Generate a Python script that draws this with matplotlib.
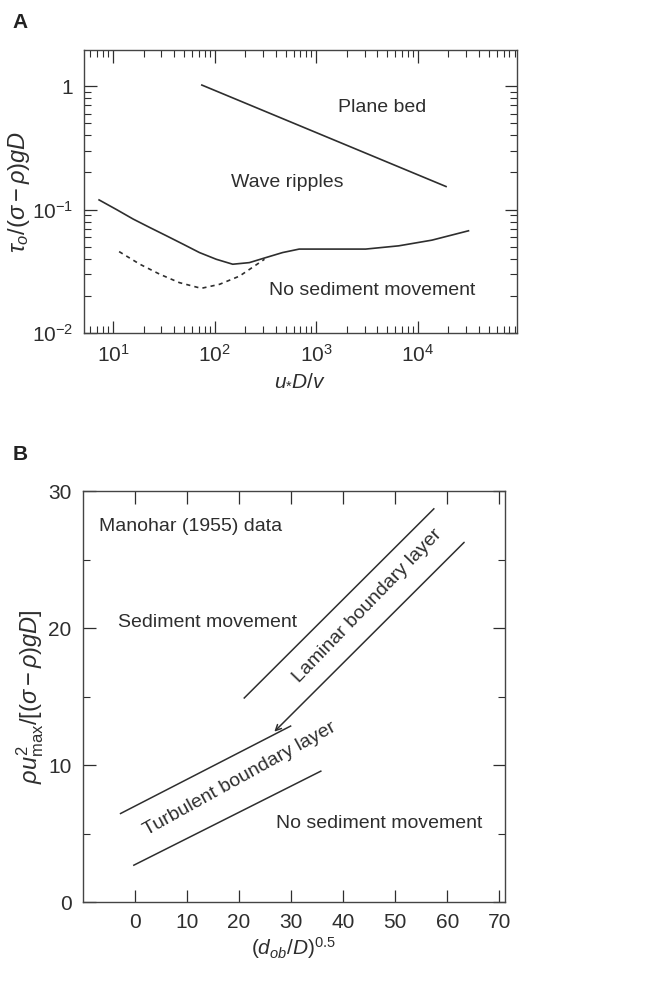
import numpy as np
import matplotlib
matplotlib.use("Agg")
import matplotlib.pyplot as plt
from matplotlib.ticker import LogLocator, NullFormatter, MultipleLocator

plt.rcParams['font.family'] = ['Liberation Sans', 'DejaVu Sans']
plt.rcParams['mathtext.fontset'] = 'custom'
plt.rcParams['mathtext.rm'] = 'Liberation Sans'
plt.rcParams['mathtext.it'] = 'Liberation Sans:italic'

INK = '#2e2e2e'

# panel A: threshold curves (u*D/v vs tau_o/(sigma-rho)gD)
plane_x = [75, 19000]
plane_y = [1.02, 0.154]
solid_x = [7.3, 10.9, 15.8, 23, 33.6, 49, 71, 104, 151, 220, 321, 468, 681,
           1445, 3070, 6500, 13800, 31600]
solid_y = [0.120, 0.100, 0.084, 0.0718, 0.0615, 0.0526, 0.045, 0.0397, 0.0362,
           0.0373, 0.041, 0.045, 0.048, 0.048, 0.048, 0.051, 0.0567, 0.0675]
dash_x = [11.5, 18.4, 29, 45, 74, 112, 176, 310]
dash_y = [0.0458, 0.0362, 0.030, 0.0257, 0.0231, 0.0249, 0.029, 0.0397]

# panel B: Manohar (1955) boundaries
lam_up_x = [21.0, 57.4]
lam_up_y = [14.9, 28.7]
lam_lo_x = [26.4, 63.6]
lam_lo_y = [12.3, 26.4]
turb_up_x = [-2.75, 29.9]
turb_up_y = [6.47, 12.85]
turb_lo_x = [-0.2, 35.7]
turb_lo_y = [2.7, 9.56]

fig = plt.figure(figsize=(6.52, 9.86), dpi=100)

# ---- A ----
ax = fig.add_axes([0.129, 0.662, 0.664, 0.287])
ax.set_xscale('log')
ax.set_yscale('log')
ax.plot(plane_x, plane_y, color=INK, lw=1.2)
ax.plot(solid_x, solid_y, color=INK, lw=1.2)
ax.plot(dash_x, dash_y, color=INK, lw=1.2, ls=(0, (2.5, 2.5)))
ax.set_xlim(5.2, 9.5e4)
ax.set_ylim(0.01, 1.95)
ax.xaxis.set_minor_locator(LogLocator(base=10, subs=np.arange(2, 10), numticks=10))
ax.xaxis.set_minor_formatter(NullFormatter())
ax.yaxis.set_minor_locator(LogLocator(base=10, subs=np.arange(2, 10), numticks=10))
ax.yaxis.set_minor_formatter(NullFormatter())
ax.set_xticks([10, 100, 1000, 10000])
ax.set_xticklabels(['$10^1$', '$10^2$', '$10^3$', '$10^4$'])
ax.set_yticks([0.01, 0.1, 1])
ax.set_yticklabels(['$10^{-2}$', '$10^{-1}$', '1'])
ax.text(4500, 0.67, 'Plane bed', fontsize=14, color=INK, ha='center', va='center')
ax.text(525, 0.166, 'Wave ripples', fontsize=14, color=INK, ha='center', va='center')
ax.text(3600, 0.022, 'No sediment movement', fontsize=14, color=INK, ha='center', va='center')
ax.set_xlabel(r'$u_{*}D/v$', fontsize=15, color=INK, labelpad=3)
ax.set_ylabel(r'$\tau_o/(\sigma-\rho)gD$', fontsize=17, color=INK, labelpad=0)
fig.text(0.019, 0.977, 'A', fontsize=15, fontweight='bold', color='#222222', va='center')

# ---- B ----
bx = fig.add_axes([0.127, 0.085, 0.647, 0.417])
bx.plot(lam_up_x, lam_up_y, color=INK, lw=1.1)
bx.plot(turb_up_x, turb_up_y, color=INK, lw=1.1)
bx.plot(turb_lo_x, turb_lo_y, color=INK, lw=1.1)
bx.annotate('', xy=(lam_lo_x[0], lam_lo_y[0]), xytext=(lam_lo_x[1], lam_lo_y[1]),
            arrowprops=dict(arrowstyle='->', color=INK, lw=1.1, mutation_scale=10))
bx.set_xlim(-10, 71)
bx.set_ylim(0, 30)
bx.set_xticks(range(0, 71, 10))
bx.set_yticks([0, 10, 20, 30])
bx.yaxis.set_minor_locator(MultipleLocator(5))
bx.text(-6.9, 27.4, 'Manohar (1955) data', fontsize=14, color=INK, va='center')
bx.text(-3.2, 20.4, 'Sediment movement', fontsize=14, color=INK, va='center')
bx.text(27.1, 5.74, 'No sediment movement', fontsize=14, color=INK, va='center')
bx.text(44.6, 21.6, 'Laminar boundary layer', fontsize=14, color=INK,
        ha='center', va='center', rotation=46)
bx.text(20.2, 9.0, 'Turbulent boundary layer', fontsize=14, color=INK,
        ha='center', va='center', rotation=29)
bx.set_xlabel(r'$(d_{ob}/D)^{0.5}$', fontsize=15, color=INK, labelpad=2)
bx.set_ylabel(r'$\rho u^2_{\rm max}/[(\sigma-\rho)gD]$', fontsize=17, color=INK, labelpad=2)
fig.text(0.019, 0.539, 'B', fontsize=15, fontweight='bold', color='#222222', va='center')

for a in (ax, bx):
    a.tick_params(which='both', direction='in', top=True, right=True,
                  colors=INK, labelsize=15, pad=8)
    a.tick_params(which='major', length=9, width=0.9)
    a.tick_params(which='minor', length=5, width=0.8)
    for s in a.spines.values():
        s.set_color('#444444')
        s.set_linewidth(1.0)

fig.savefig('out.png', dpi=100, facecolor='white')
